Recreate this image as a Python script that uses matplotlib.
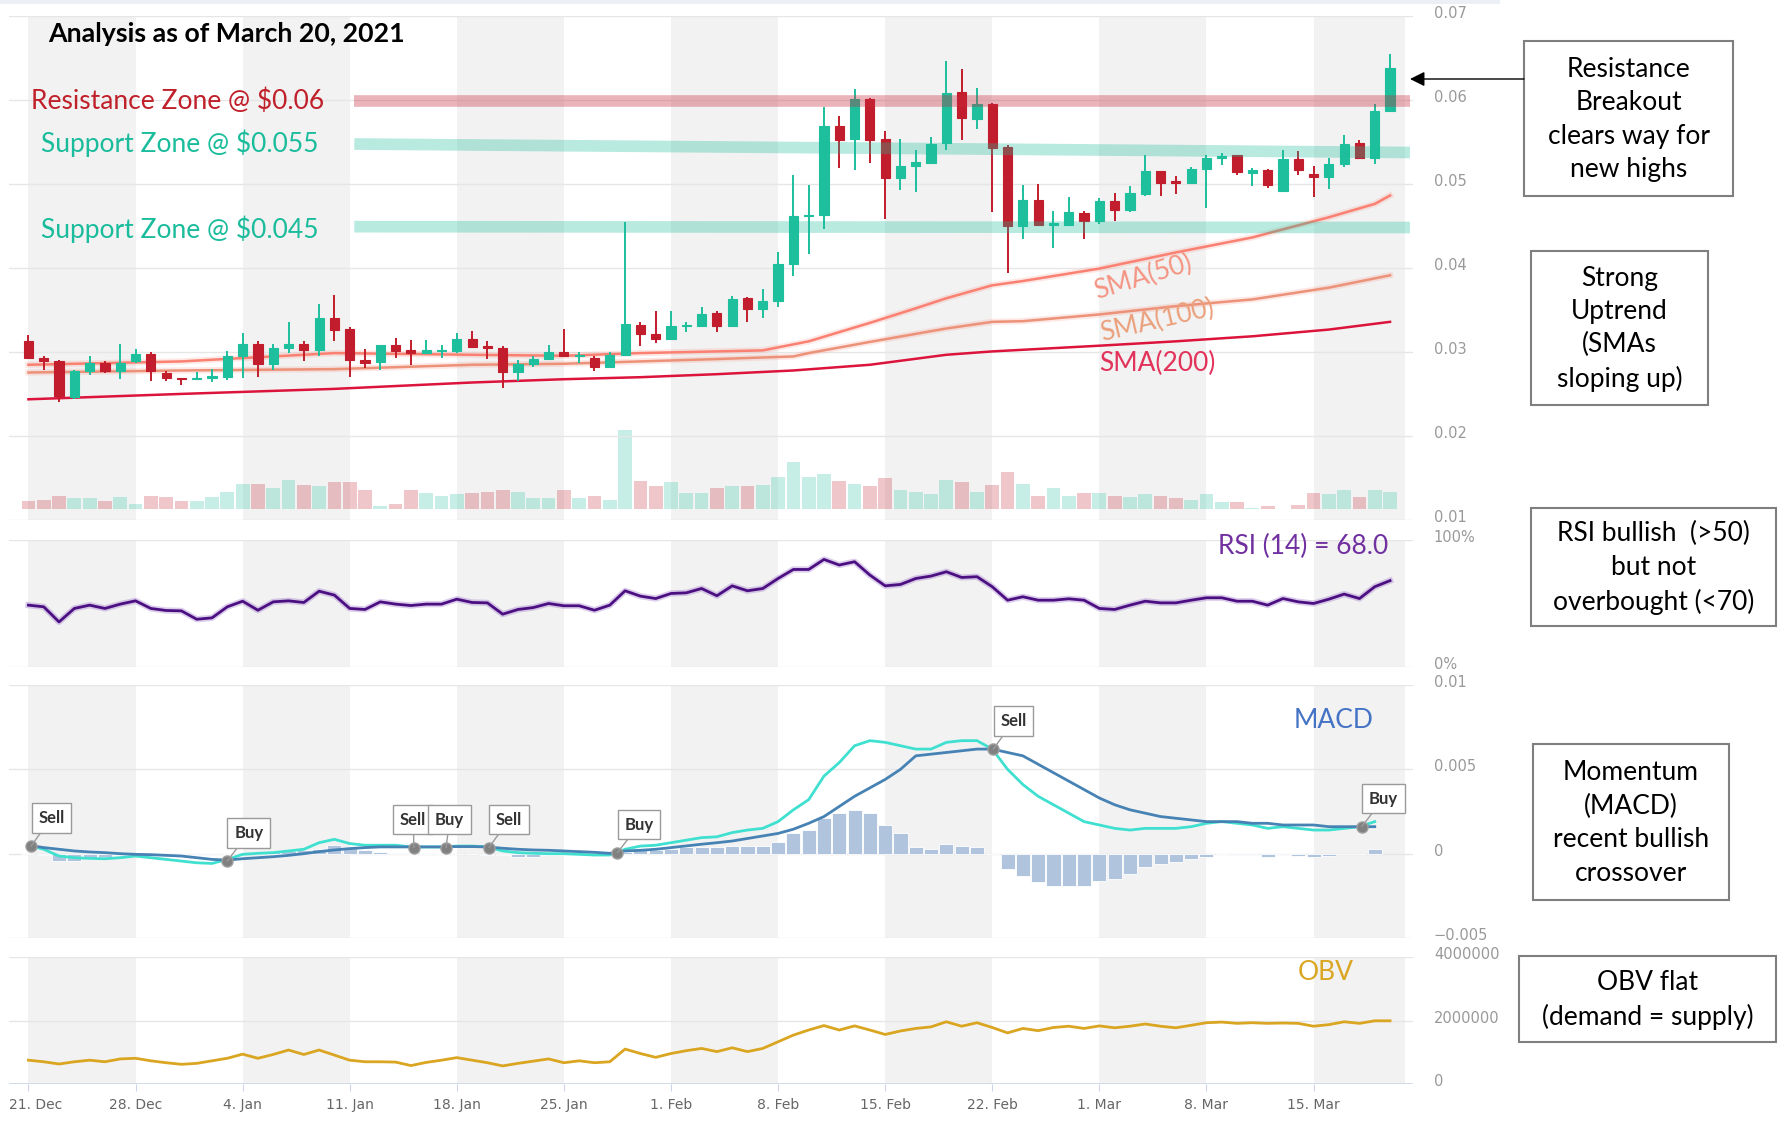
import numpy as np
import matplotlib
matplotlib.use("Agg")
import matplotlib.pyplot as plt
from matplotlib.patches import Rectangle
from matplotlib.transforms import ScaledTranslation, Bbox

# ---------------- data (21 Dec 2020 .. 20 Mar 2021) ----------------
opens = [0.03127, 0.02924, 0.02888, 0.02469, 0.02768, 0.02868, 0.02768, 0.02888, 0.02975, 0.02748,
         0.02696, 0.02676, 0.02688, 0.02708, 0.02955, 0.03099, 0.02856, 0.03047, 0.03099, 0.03027,
         0.03406, 0.03275, 0.02908, 0.02876, 0.03087, 0.03019, 0.02987, 0.03007, 0.03007, 0.03159,
         0.03067, 0.03047, 0.02756, 0.02860, 0.02920, 0.02999, 0.02955, 0.02928, 0.02820, 0.02967,
         0.03319, 0.03219, 0.03155, 0.03307, 0.03315, 0.03466, 0.03315, 0.03642, 0.03514, 0.03606,
         0.04053, 0.04615, 0.04631, 0.05689, 0.05541, 0.06012, 0.05533, 0.05074, 0.05210, 0.05250,
         0.05489, 0.06100, 0.05769, 0.05952, 0.05441, 0.04504, 0.04811, 0.04516, 0.04516, 0.04655,
         0.04563, 0.04795, 0.04691, 0.04883, 0.05150, 0.05034, 0.05014, 0.05174, 0.05314, 0.05342,
         0.05130, 0.05162, 0.04915, 0.05294, 0.05114, 0.05082, 0.05234, 0.05489, 0.05314, 0.05868]
closes = [0.02928, 0.02888, 0.02477, 0.02776, 0.02868, 0.02768, 0.02868, 0.02975, 0.02768, 0.02688,
          0.02676, 0.02696, 0.02716, 0.02955, 0.03099, 0.02856, 0.03047, 0.03099, 0.03027, 0.03406,
          0.03267, 0.02900, 0.02868, 0.03087, 0.03015, 0.02987, 0.03019, 0.03019, 0.03159, 0.03059,
          0.03047, 0.02756, 0.02860, 0.02920, 0.02999, 0.02955, 0.02967, 0.02820, 0.02967, 0.03338,
          0.03219, 0.03155, 0.03307, 0.03327, 0.03458, 0.03315, 0.03626, 0.03514, 0.03606, 0.04045,
          0.04623, 0.04635, 0.05689, 0.05529, 0.06012, 0.05529, 0.05074, 0.05210, 0.05262, 0.05481,
          0.06080, 0.05781, 0.05948, 0.05429, 0.04504, 0.04811, 0.04512, 0.04532, 0.04671, 0.04563,
          0.04803, 0.04691, 0.04895, 0.05150, 0.05014, 0.05014, 0.05182, 0.05314, 0.05334, 0.05142,
          0.05162, 0.04994, 0.05294, 0.05162, 0.05086, 0.05242, 0.05481, 0.05314, 0.05868, 0.06379]
highs = [0.03199, 0.02955, 0.02900, 0.02788, 0.02955, 0.02888, 0.03099, 0.03035, 0.02999, 0.02776,
         0.02696, 0.02756, 0.02796, 0.03007, 0.03227, 0.03127, 0.03099, 0.03354, 0.03127, 0.03566,
         0.03674, 0.03299, 0.03035, 0.03087, 0.03167, 0.03147, 0.03147, 0.03087, 0.03227, 0.03247,
         0.03127, 0.03075, 0.02908, 0.02947, 0.03087, 0.03275, 0.02999, 0.02947, 0.02999, 0.04543,
         0.03354, 0.03486, 0.03486, 0.03354, 0.03538, 0.03486, 0.03666, 0.03658, 0.03745, 0.04192,
         0.05102, 0.04994, 0.05920, 0.05809, 0.06128, 0.06028, 0.05629, 0.05541, 0.05401, 0.05561,
         0.06459, 0.06367, 0.06148, 0.05968, 0.05469, 0.04990, 0.05002, 0.04683, 0.04843, 0.04683,
         0.04831, 0.04895, 0.04974, 0.05342, 0.05150, 0.05090, 0.05202, 0.05342, 0.05373, 0.05342,
         0.05194, 0.05182, 0.05409, 0.05389, 0.05214, 0.05314, 0.05581, 0.05521, 0.05948, 0.06547]
lows = [0.02916, 0.02788, 0.02409, 0.02437, 0.02728, 0.02748, 0.02676, 0.02868, 0.02660, 0.02660,
        0.02608, 0.02668, 0.02648, 0.02668, 0.02688, 0.02708, 0.02788, 0.02987, 0.02888, 0.02947,
        0.03127, 0.02708, 0.02808, 0.02788, 0.02928, 0.02848, 0.02979, 0.02928, 0.02987, 0.03047,
        0.02916, 0.02568, 0.02660, 0.02820, 0.02900, 0.02947, 0.02868, 0.02768, 0.02808, 0.02967,
        0.03075, 0.03107, 0.03139, 0.03235, 0.03315, 0.03235, 0.03315, 0.03354, 0.03406, 0.03538,
        0.03905, 0.04164, 0.04464, 0.05190, 0.05170, 0.05254, 0.04583, 0.04931, 0.04903, 0.05242,
        0.05409, 0.05521, 0.05653, 0.04663, 0.03945, 0.04344, 0.04496, 0.04244, 0.04516, 0.04344,
        0.04524, 0.04563, 0.04671, 0.04863, 0.04863, 0.04883, 0.05014, 0.04711, 0.05222, 0.05102,
        0.04982, 0.04950, 0.04915, 0.05102, 0.04851, 0.04935, 0.05202, 0.05294, 0.05234, 0.05860]

# volume, thousands
volume = [42, 47, 67, 53, 53, 40, 62, 27, 67, 60,
          40, 40, 60, 87, 127, 127, 107, 147, 120, 113,
          133, 133, 93, 13, 27, 93, 80, 67, 73, 80,
          87, 93, 87, 53, 53, 93, 53, 67, 47, 395,
          140, 113, 133, 80, 80, 107, 113, 113, 120, 160,
          233, 160, 173, 140, 127, 113, 153, 93, 87, 73,
          147, 133, 87, 120, 187, 127, 67, 107, 67, 80,
          80, 67, 60, 73, 67, 53, 47, 73, 33, 33,
          7, 13, 0, 20, 80, 73, 93, 60, 93, 87]

sma50_days = [0, 10, 20, 29, 35, 40, 48, 51, 55, 58, 60, 63, 65, 70, 75, 80, 85, 88, 89]
sma50_vals = [0.02848, 0.02888, 0.02987, 0.02967, 0.02955, 0.02987, 0.03019, 0.03127, 0.03347,
              0.03520, 0.03640, 0.03794, 0.03845, 0.03993, 0.04185, 0.04364, 0.04604, 0.04763, 0.04863]
sma100_days = [0, 10, 20, 29, 35, 40, 45, 50, 51, 55, 60, 63, 65, 70, 75, 80, 85, 89]
sma100_vals = [0.02756, 0.02780, 0.02796, 0.02848, 0.02860, 0.02888, 0.02916, 0.02947, 0.02987,
               0.03120, 0.03280, 0.03359, 0.03367, 0.03447, 0.03546, 0.03626, 0.03766, 0.03913]
sma200_days = [0, 10, 20, 29, 35, 40, 45, 50, 55, 60, 63, 70, 75, 80, 85, 89]
sma200_vals = [0.02437, 0.02501, 0.02561, 0.02637, 0.02676, 0.02700, 0.02736, 0.02780, 0.02848,
               0.02967, 0.03007, 0.03075, 0.03127, 0.03187, 0.03267, 0.03359]

# zones: (start day, end day, start price, end price)
zone_resist = (21.3, 90.3, 0.0599, 0.0599)
zone_supp_hi = (21.3, 90.3, 0.05476, 0.05375)
zone_supp_lo = (21.3, 90.3, 0.04492, 0.04482)

rsi = [48.7, 47.4, 35.5, 46.1, 48.7, 46.1, 49.5, 52.1, 46.1, 44.5,
       44.2, 37.6, 38.7, 47.4, 51.8, 44.7, 51.3, 52.1, 50.8, 59.7,
       56.6, 46.1, 45.3, 51.3, 49.5, 48.4, 49.5, 49.5, 53.4, 50.8,
       50.5, 41.6, 45.3, 46.8, 50.0, 48.2, 48.2, 44.7, 48.7, 60.0,
       55.8, 53.9, 57.9, 58.4, 61.8, 56.1, 63.9, 60.0, 61.8, 69.7,
       76.8, 76.8, 84.7, 80.3, 82.9, 72.4, 63.9, 65.0, 69.7, 71.6,
       75.0, 70.5, 71.1, 63.2, 52.6, 55.3, 52.6, 52.6, 53.7, 52.6,
       46.1, 45.3, 48.7, 51.8, 50.5, 50.5, 52.6, 54.5, 54.5, 51.8,
       51.8, 48.7, 53.9, 51.3, 50.0, 53.4, 57.4, 53.9, 63.2, 68.0]

macd = [0.0005, 0.00026, -0.00014, -0.00024, -0.00028, -0.0003, -0.00024, -0.00014, -0.00024, -0.00034,
        -0.00044, -0.00054, -0.00058, -0.00034, -0.00004, 0.00002, 0.00006, 0.00016, 0.00026, 0.00065,
        0.00085, 0.0006, 0.0005, 0.0005, 0.0005, 0.0004, 0.0004, 0.0004, 0.00045, 0.00045,
        0.0004, 0.00016, 0.00006, 0.00002, 0.0, 0.0, -0.00004, -0.00008, -0.00008, 0.00026,
        0.00045, 0.0005, 0.00065, 0.0008, 0.00095, 0.001, 0.00125, 0.0014, 0.0015, 0.0019,
        0.0026, 0.0032, 0.0046, 0.0054, 0.0064, 0.0067, 0.0066, 0.0064, 0.0062, 0.0062,
        0.0066, 0.0067, 0.0067, 0.0062, 0.0050, 0.0041, 0.0034, 0.0029, 0.0024, 0.0019,
        0.0017, 0.0015, 0.0014, 0.0015, 0.0015, 0.0015, 0.0016, 0.0018, 0.0019, 0.0018,
        0.0017, 0.0015, 0.0016, 0.0015, 0.0014, 0.0014, 0.0015, 0.0016, 0.0019]
signal = [0.0005, 0.00036, 0.00026, 0.00016, 0.0001, 0.00006, 0.0, -0.00004, -0.00006, -0.0001,
          -0.00014, -0.00024, -0.00034, -0.00038, -0.0003, -0.00024, -0.00018, -0.0001, 0.0, 0.00012,
          0.00022, 0.0003, 0.00036, 0.0004, 0.0004, 0.0004, 0.0004, 0.0004, 0.00042, 0.00042,
          0.0004, 0.00032, 0.00026, 0.00022, 0.0002, 0.00016, 0.00012, 0.00008, 0.00002, 0.00016,
          0.0002, 0.00026, 0.00036, 0.00046, 0.00056, 0.00065, 0.00075, 0.0009, 0.00105, 0.0012,
          0.00145, 0.0018, 0.0022, 0.0028, 0.0034, 0.0039, 0.0044, 0.005, 0.0058, 0.0059,
          0.006, 0.0061, 0.0062, 0.0062, 0.006, 0.0058, 0.0053, 0.0048, 0.0043, 0.0038,
          0.0033, 0.0029, 0.0026, 0.0024, 0.0022, 0.0021, 0.002, 0.0019, 0.0019, 0.0019,
          0.0018, 0.0018, 0.0017, 0.0017, 0.0017, 0.0016, 0.0016, 0.0016, 0.0016]
hist = [0.0, -0.0001, -0.00045, -0.00045, -0.0003, -0.0002, -0.0001, -0.0001, -0.00005, -0.00005,
        -0.0001, -0.0001, -0.00008, 0.0, 0.00005, 0.0001, 0.0001, 0.00015, 0.0002, 0.0003,
        0.0005, 0.0004, 0.0002, 0.0001, 0.00005, 0.0, 0.0, 0.0, 0.0, 0.0,
        -0.00005, -0.0001, -0.0002, -0.0002, -0.0001, -0.0001, -0.0001, -0.0001, 0.0, 0.0001,
        0.0002, 0.0002, 0.0003, 0.0004, 0.0004, 0.0004, 0.00045, 0.00045, 0.00045, 0.0007,
        0.0012, 0.0014, 0.0021, 0.0024, 0.0026, 0.0024, 0.0017, 0.0012, 0.0004, 0.00026,
        0.0006, 0.00045, 0.0004, 0.0, -0.0009, -0.0013, -0.0017, -0.0019, -0.0019, -0.0019,
        -0.0016, -0.0015, -0.0012, -0.0008, -0.0006, -0.0005, -0.0003, -0.0002, 0.0, -0.0001,
        -0.0001, -0.0002, -0.0001, -0.00015, -0.0002, -0.00015, 0.0, 0.0, 0.0003]

flag_days = [0.18, 12.99, 25.2, 27.3, 30.1, 38.5, 63.07, 87.15]
flag_vals = [0.00046, -0.00044, 0.00036, 0.00036, 0.00036, 0.00006, 0.0062, 0.0016]
flag_text = ["Sell", "Buy", "Sell", "Buy", "Sell", "Buy", "Sell", "Buy"]

# OBV, millions
obv = [0.75, 0.70, 0.63, 0.70, 0.75, 0.70, 0.79, 0.81, 0.73, 0.67,
       0.62, 0.65, 0.73, 0.81, 0.94, 0.81, 0.93, 1.07, 0.93, 1.07,
       0.91, 0.75, 0.70, 0.70, 0.69, 0.58, 0.68, 0.75, 0.83, 0.75,
       0.67, 0.57, 0.65, 0.72, 0.79, 0.67, 0.73, 0.67, 0.70, 1.10,
       0.96, 0.84, 0.96, 1.05, 1.12, 1.02, 1.14, 1.02, 1.12, 1.33,
       1.54, 1.70, 1.84, 1.70, 1.83, 1.70, 1.56, 1.67, 1.75, 1.80,
       1.96, 1.82, 1.93, 1.78, 1.61, 1.75, 1.68, 1.78, 1.82, 1.75,
       1.83, 1.77, 1.82, 1.89, 1.82, 1.77, 1.85, 1.93, 1.95, 1.91,
       1.93, 1.91, 1.92, 1.91, 1.82, 1.87, 1.96, 1.91, 1.99, 1.99]

week_days = [0, 7, 14, 21, 28, 35, 42, 49, 56, 63, 70, 77, 84]
week_labels = ["21. Dec", "28. Dec", "4. Jan", "11. Jan", "18. Jan", "25. Jan", "1. Feb",
               "8. Feb", "15. Feb", "22. Feb", "1. Mar", "8. Mar", "15. Mar"]

price_ticks = [0.01, 0.02, 0.03, 0.04, 0.05, 0.06, 0.07]
macd_ticks = [-0.005, 0, 0.005, 0.01]
macd_tick_labels = ["\u22120.005", "0", "0.005", "0.01"]
obv_ticks = [0, 2000000, 4000000]

notes = ["Resistance\nBreakout\nclears way for\nnew highs",
         "Strong\nUptrend\n(SMAs\nsloping up)",
         "RSI bullish  (>50)\nbut not\noverbought (<70)",
         "Momentum\n(MACD)\nrecent bullish\ncrossover",
         "OBV flat\n(demand = supply)"]

# ---------------- style ----------------
GREEN = "#1dbf9d"
RED = "#c21d2c"
BAND = "#f2f2f2"
GRID = "#e6e6e6"
LABEL = "#999999"
CAL = ["Lato", "DejaVu Sans"]
FS = 19

plt.rcParams["font.family"] = ["DejaVu Sans"]

W, H = 1778, 1125
PX0, PX1 = 9, 1413
XLIM = (-1.27, 90.5)

fig = plt.figure(figsize=(W / 100, H / 100), dpi=100)
fig.patch.set_facecolor("white")


def pane(y0, y1):
    a = fig.add_axes([PX0 / W, 1 - y1 / H, (PX1 - PX0) / W, (y1 - y0) / H])
    a.set_xlim(*XLIM)
    for s in a.spines.values():
        s.set_visible(False)
    a.set_xticks([])
    return a


def bands(a):
    for k in range(0, len(week_days), 2):
        a.axvspan(week_days[k], min(week_days[k] + 7, 90), color=BAND, lw=0, zorder=0)


def right_labels(a, ticks, labels, clip=False):
    a.set_yticks(ticks)
    a.set_yticklabels(labels)
    a.yaxis.tick_right()
    a.tick_params(axis="y", length=0, pad=15, labelsize=10.5, labelcolor=LABEL)
    a.grid(axis="y", color=GRID, lw=1)
    a.set_axisbelow(True)
    up = ScaledTranslation(0, 4 / 100, fig.dpi_scale_trans)
    for lab in a.get_yticklabels():
        lab.set_transform(lab.get_transform() + up)
        if clip:
            lab.set_clip_on(True)
            lab.set_clip_box(Bbox([[0, 0], [1500, H]]))


days = np.arange(len(opens))
o = np.array(opens)
c = np.array(closes)
up_day = c >= o
col = np.where(up_day, GREEN, RED)

# ---- price pane: volume underneath, candles on top
ax_vol = pane(16, 520)
bands(ax_vol)
ax_vol.set_ylim(-55, 2460)
ax_vol.set_yticks([])
ax_vol.bar(days, volume, width=0.9, color=col, alpha=0.25, lw=0, zorder=2)

ax = pane(16, 520)
ax.patch.set_visible(False)
ax.set_ylim(0.01, 0.07)
right_labels(ax, price_ticks, ["%.2f" % t for t in price_ticks])

ax.plot(sma200_days, sma200_vals, color="#dc143c", lw=1.8, zorder=2)
ax.plot(sma100_days, sma100_vals, color="#e9967a", lw=1.8, zorder=2)
ax.plot(sma50_days, sma50_vals, color="#fa8072", lw=1.8, zorder=2)
for d, v in [(sma100_days, sma100_vals), (sma50_days, sma50_vals)]:
    ax.plot(d, v, color="#fa8072", lw=4.5, alpha=0.18, zorder=2)

ax.vlines(days, lows, highs, colors=col, lw=1.4, zorder=3)
ax.bar(days, np.abs(c - o), bottom=np.minimum(o, c), width=0.6, color=col,
       edgecolor=col, lw=0.8, zorder=3)

for z, zc, za in [(zone_resist, "#c8283c", 0.35), (zone_supp_hi, "#1abc9c", 0.31),
                  (zone_supp_lo, "#1abc9c", 0.31)]:
    ax.plot([z[0], z[1]], [z[2], z[3]], color=zc, alpha=za, lw=8.4,
            solid_capstyle="butt", zorder=4)

# ---- RSI pane
ax_rsi = pane(540, 667)
bands(ax_rsi)
ax_rsi.set_ylim(0, 100)
right_labels(ax_rsi, [0, 100], ["0%", "100%"])
ax_rsi.plot(days, rsi, color="#8a5cc0", lw=4.5, alpha=0.3, zorder=2)
ax_rsi.plot(days, rsi, color="#4b0f82", lw=2.0, zorder=3)

# ---- MACD pane
ax_m = pane(685, 938)
bands(ax_m)
ax_m.set_ylim(-0.005, 0.01)
right_labels(ax_m, macd_ticks, macd_tick_labels)
md = np.arange(len(macd))
ax_m.bar(md, hist, width=0.92, color="#b0c4de", edgecolor="white", lw=0.6, zorder=2)
ax_m.plot(md, macd, color="#40e0d0", lw=2.0, zorder=3)
ax_m.plot(md, signal, color="#4682b4", lw=2.0, zorder=3)
ax_m.plot(flag_days, flag_vals, "o", ms=8, color="#808080", mec="#a0a0a0", mew=1, zorder=5)
flag_shift = {2: -21, 3: -18}
for i, (fd, fv, ft) in enumerate(zip(flag_days, flag_vals, flag_text)):
    dx = flag_shift.get(i, 0)
    ax_m.annotate(ft, xy=(fd, fv), xytext=(dx + 7, 20), textcoords="offset pixels",
                  ha="left", va="bottom", fontsize=12, fontweight="bold", color="#333333",
                  family=CAL, zorder=6,
                  bbox=dict(boxstyle="square,pad=0.4", fc="white", ec="#9a9a9a", lw=1),
                  arrowprops=dict(arrowstyle="-", color="#9a9a9a", lw=1, shrinkA=0, shrinkB=0))

# ---- OBV pane
ax_o = pane(957, 1084)
bands(ax_o)
ax_o.set_ylim(0, 4000000)
right_labels(ax_o, obv_ticks, [str(t) for t in obv_ticks], clip=True)
ax_o.plot(days, np.array(obv) * 1e6, color="#daa520", lw=2.0, zorder=3)
ax_o.axhline(0, color="#ccd6eb", lw=1.2, zorder=1)
ax_o.set_xticks(week_days)
ax_o.set_xticklabels(week_labels)
ax_o.tick_params(axis="x", length=5, color="#ccd6eb", pad=5, labelsize=10, labelcolor="#666666")
first = ax_o.get_xticklabels()[0]
first.set_ha("left")
first.set_transform(first.get_transform() + ScaledTranslation(-19 / 100, 0, fig.dpi_scale_trans))

# ---- overlay in pixel coordinates for free text, notes and the arrow
ov = fig.add_axes([0, 0, 1, 1], zorder=10)
ov.set_xlim(0, W)
ov.set_ylim(H, 0)
ov.axis("off")
ov.patch.set_visible(False)
ov.add_patch(Rectangle((0, 0), 1500, 4, color="#eceff3", lw=0))

ov.text(48, 34, "Analysis as of March 20, 2021", fontsize=19.3, fontweight="bold",
        family=CAL, color="black", ha="left", va="center")
ov.text(31, 101, "Resistance Zone @ $0.06", fontsize=FS, family=CAL, color="#c0202a",
        ha="left", va="center")
ov.text(41, 143, "Support Zone @ $0.055", fontsize=FS, family=CAL, color="#1abc9c",
        ha="left", va="center")
ov.text(41, 229, "Support Zone @ $0.045", fontsize=FS, family=CAL, color="#1abc9c",
        ha="left", va="center")
ov.text(1143, 277, "SMA(50)", fontsize=FS, family=CAL, color="#f59482", rotation=17,
        ha="center", va="center", rotation_mode="anchor")
ov.text(1157, 321, "SMA(100)", fontsize=FS, family=CAL, color="#eba07c", rotation=13,
        ha="center", va="center", rotation_mode="anchor")
ov.text(1157, 363, "SMA(200)", fontsize=FS, family=CAL, color="#e2335b",
        ha="center", va="center")
ov.text(1388, 546, "RSI (14) = 68.0", fontsize=FS, family=CAL, color="#7030a0",
        ha="right", va="center")
ov.text(1374, 720, "MACD", fontsize=FS, family=CAL, color="#4472c4", ha="right", va="center")
ov.text(1354, 973, "OBV", fontsize=FS, family=CAL, color="#daa520", ha="right", va="center")

boxes = [(1524, 41, 1733, 196), (1531, 251, 1708, 405), (1531, 508, 1776, 626),
         (1533, 744, 1729, 900), (1519, 956, 1776, 1042)]
for (x0, y0, x1, y1), txt in zip(boxes, notes):
    ov.add_patch(Rectangle((x0, y0), x1 - x0, y1 - y0, fc="white", ec="#7f7f7f", lw=1.5))
    ov.text((x0 + x1) / 2, (y0 + y1) / 2 + 1, txt, fontsize=FS, family=CAL, color="black",
            ha="center", va="center", multialignment="center", linespacing=1.42)

ov.annotate("", xy=(1410, 79), xytext=(1524, 79),
            arrowprops=dict(arrowstyle="-|>", color="black", lw=1, mutation_scale=22,
                            shrinkA=0, shrinkB=0))

fig.savefig("out.png", dpi=100, facecolor="white")
